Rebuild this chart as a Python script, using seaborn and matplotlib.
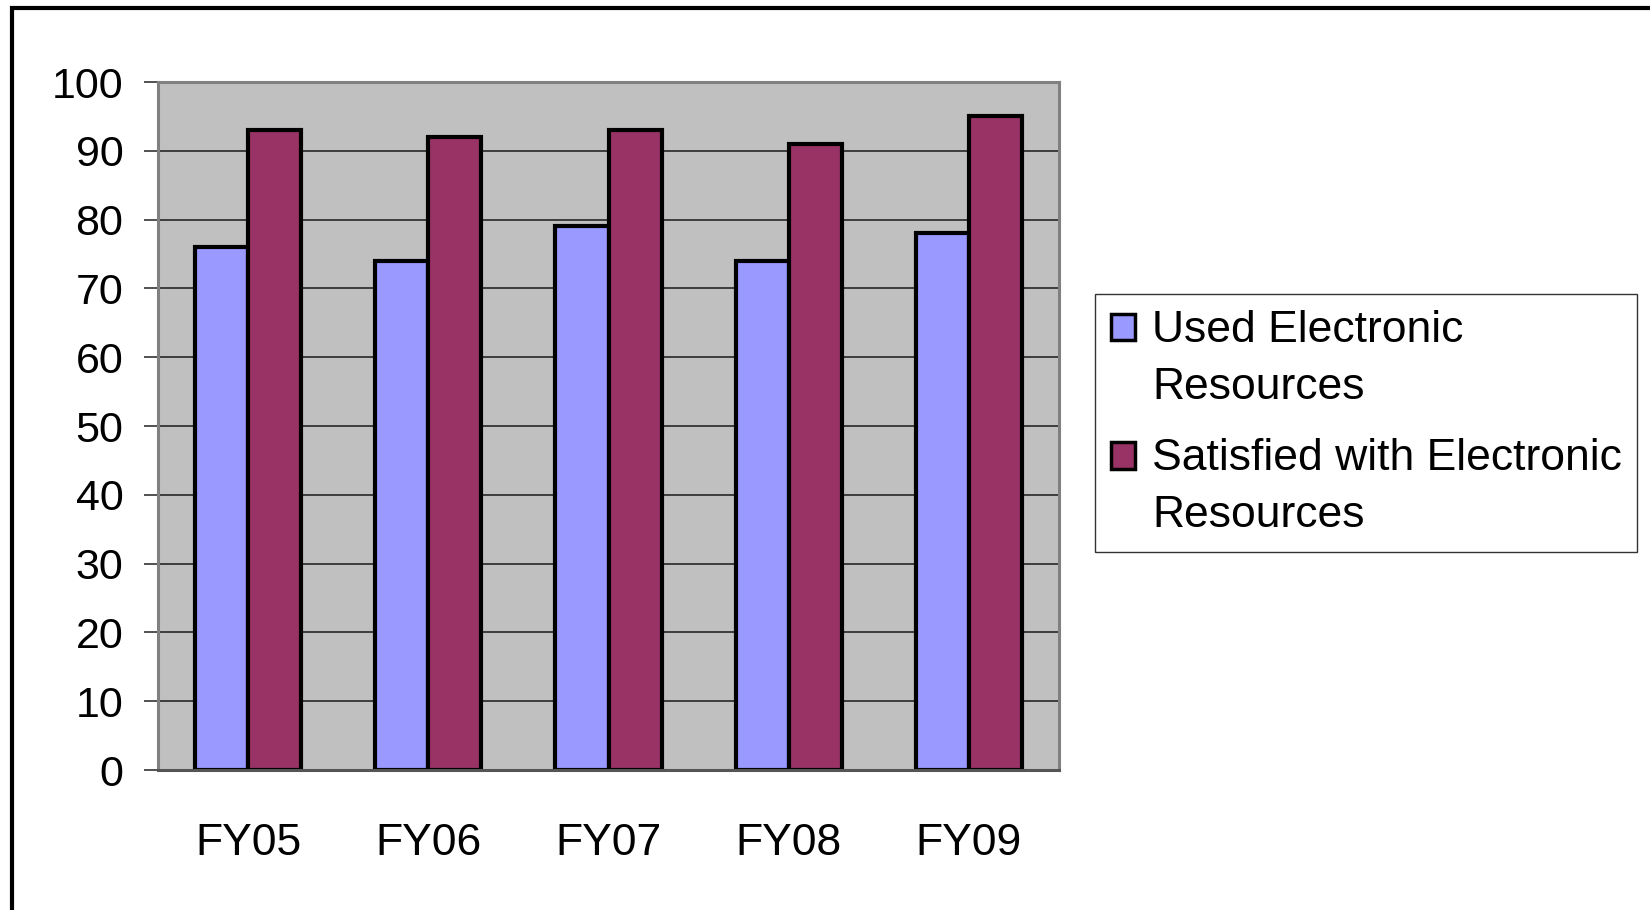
import numpy as np
import pandas as pd
import matplotlib
matplotlib.use("Agg")
import matplotlib.pyplot as plt
from matplotlib.patches import Patch, Rectangle
from matplotlib.legend_handler import HandlerPatch
import seaborn as sns

years = ["FY05", "FY06", "FY07", "FY08", "FY09"]
used = [76, 74, 79, 74, 78]
satisfied = [93, 92, 93, 91, 95]
series_names = ["Used Electronic\nResources", "Satisfied with Electronic\nResources"]
colors = ["#9999FF", "#993366"]
yticks = list(range(0, 101, 10))

df = pd.DataFrame({
    "year": years * 2,
    "value": used + satisfied,
    "series": [series_names[0]] * len(years) + [series_names[1]] * len(years),
})

sns.set_style("white")
plt.rcParams["font.family"] = ["Liberation Sans", "DejaVu Sans"]
plt.rcParams["text.color"] = "black"
plt.rcParams["xtick.color"] = "black"
plt.rcParams["ytick.color"] = "black"

fig = plt.figure(figsize=(16.5, 9.1), dpi=100)
ax = fig.add_axes([158 / 1650, 1 - 770 / 910, (1059 - 158) / 1650, (770 - 82) / 910])
ax.set_facecolor("#C0C0C0")

sns.barplot(data=df, x="year", y="value", hue="series", palette=colors,
            width=0.59, edgecolor="black", linewidth=3, legend=False,
            saturation=1, ax=ax, errorbar=None)

ax.set_ylim(0, 100)
ax.set_xlim(-0.5, 4.5)
ax.set_yticks(yticks)
ax.set_yticklabels([str(t) for t in yticks])
ax.set_xlabel("")
ax.set_ylabel("")
ax.yaxis.grid(True, color="#333333", linewidth=1.3)
ax.xaxis.grid(False)
ax.set_axisbelow(True)

ax.set_xticks(np.arange(-0.5, 5, 1), minor=True)
ax.tick_params(axis="x", which="major", length=0, pad=38, labelsize=32, labelcolor="black")
ax.tick_params(axis="x", which="minor", length=10, width=1.2, color="#333333", direction="out")
ax.tick_params(axis="y", which="major", length=10, width=1.2, color="#333333",
               direction="out", pad=15, labelsize=31, left=True, labelcolor="black")

for s in ax.spines.values():
    s.set_color("#808080")
    s.set_linewidth(2.2)
ax.spines["bottom"].set_color("#555555")


def top_patch(legend, orig_handle, xdescent, ydescent, width, height, fontsize):
    return Rectangle((-xdescent, -ydescent + 0.72 * fontsize), width, height)


handles = [Patch(facecolor=c, edgecolor="black", linewidth=2.5) for c in colors]
leg = fig.legend(handles, series_names, loc="center left",
                 bbox_to_anchor=(1095 / 1650, 1 - 423 / 910),
                 fontsize=32, frameon=True, fancybox=False,
                 handlelength=0.55, handleheight=0.55, handletextpad=0.38,
                 labelspacing=0.68, borderpad=0.35, borderaxespad=0,
                 handler_map={Patch: HandlerPatch(patch_func=top_patch)})
for t in leg.get_texts():
    t.set_linespacing(1.51)
    t.set_color("black")
leg.get_frame().set_edgecolor("black")
leg.get_frame().set_linewidth(1.0)
leg.get_frame().set_facecolor("white")

fig.add_artist(Rectangle((12 / 1650, -0.1), 1.2, 1 - 8 / 910 + 0.1,
                         transform=fig.transFigure, fill=False,
                         edgecolor="black", linewidth=3, clip_on=False))

fig.savefig("out.png", dpi=100, facecolor="white")
